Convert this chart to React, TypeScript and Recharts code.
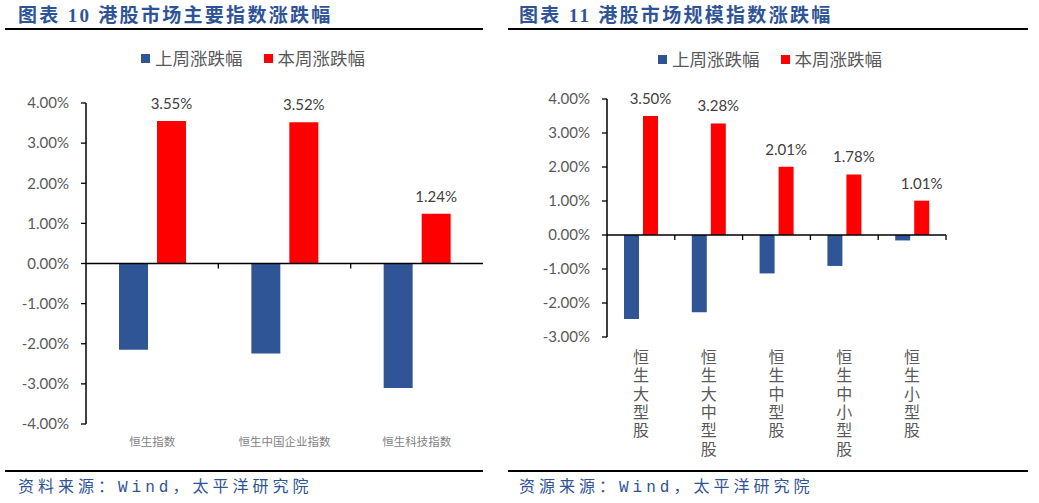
import { BarChart, Bar, XAxis, YAxis, ReferenceLine, LabelList } from 'recharts';

// 图表 10：港股市场主要指数
const mainCategories = ['恒生指数', '恒生中国企业指数', '恒生科技指数'];
const mainLastWeek = [-2.15, -2.24, -3.1];
const mainThisWeek = [3.55, 3.52, 1.24];
const mainTicks = [-4, -3, -2, -1, 0, 1, 2, 3, 4];

// 图表 11：港股市场规模指数
const sizeCategories = ['恒生大型股', '恒生大中型股', '恒生中型股', '恒生中小型股', '恒生小型股'];
const sizeLastWeek = [-2.47, -2.27, -1.13, -0.91, -0.16];
const sizeThisWeek = [3.5, 3.28, 2.01, 1.78, 1.01];
const sizeTicks = [-3, -2, -1, 0, 1, 2, 3, 4];

const seriesNames = ['上周涨跌幅', '本周涨跌幅'];
const BLUE = '#2F5597';
const RED = '#FF0000';
const TEXT_GRAY = '#595959';
const TITLE_BLUE = '#2F5496';
const NUM_FONT = "Lato, 'Noto Sans CJK SC', sans-serif";
const CJK_FONT = "'Noto Sans CJK SC', sans-serif";

const pct = (v: number) => `${v.toFixed(2)}%`;

const toRows = (cats: string[], last: number[], cur: number[]) =>
  cats.map((name, i) => ({ name, lastWeek: last[i], thisWeek: cur[i] }));

// zero line with small downward ticks at category boundaries
const zeroLine = (count: number, from: number, to: number) => (p: any) => {
  const step = (p.x2 - p.x1) / count;
  const marks = [];
  for (let i = from; i <= to; i++) {
    const x = p.x1 + step * i;
    marks.push(<line key={i} x1={x} x2={x} y1={p.y1} y2={p.y1 + 5} stroke="#000" strokeWidth={1.3} />);
  }
  return (
    <g>
      <line x1={p.x1} y1={p.y1} x2={p.x2} y2={p.y2} stroke="#000" strokeWidth={1.5} />
      {marks}
    </g>
  );
};

const FlatTick = (props: any) => (
  <text
    x={props.x}
    y={props.y + 17}
    textAnchor="middle"
    dominantBaseline="central"
    fontSize={11.5}
    fill="#7F7F7F"
    fontFamily={CJK_FONT}
  >
    {props.payload.value}
  </text>
);

// category names stacked top to bottom, one text per label
const VerticalTick = (props: any) => (
  <text
    x={props.x}
    y={props.y + 12}
    writingMode="tb"
    style={{ writingMode: 'vertical-rl' }}
    fontSize={16}
    letterSpacing={2.3}
    fill={TEXT_GRAY}
    fontFamily={CJK_FONT}
  >
    {props.payload.value}
  </text>
);

function LegendRow({ left, top }: { left: number; top: number }) {
  const colors = [BLUE, RED];
  return (
    <div style={{ position: 'absolute', left, top, display: 'flex', alignItems: 'center', gap: 21 }}>
      {seriesNames.map((n, i) => (
        <div key={n} style={{ display: 'flex', alignItems: 'center', gap: 5 }}>
          <div style={{ width: 9, height: 9, background: colors[i] }} />
          <span style={{ fontSize: 17.5, color: TEXT_GRAY, fontFamily: CJK_FONT, lineHeight: '20px' }}>{n}</span>
        </div>
      ))}
    </div>
  );
}

function Title({ left, text }: { left: number; text: string }) {
  return (
    <div
      style={{
        position: 'absolute',
        left,
        top: 4,
        fontSize: 19,
        fontWeight: 700,
        letterSpacing: 2.3,
        color: TITLE_BLUE,
        fontFamily: "'Liberation Serif', 'Noto Sans CJK SC', serif",
        lineHeight: '24px',
        whiteSpace: 'nowrap',
      }}
    >
      {text}
    </div>
  );
}

function Source({ left, text }: { left: number; text: string }) {
  return (
    <div
      style={{
        position: 'absolute',
        left,
        top: 477,
        fontSize: 16,
        letterSpacing: 4,
        color: TITLE_BLUE,
        fontFamily: "'Liberation Mono', 'Noto Sans CJK SC', monospace",
        lineHeight: '22px',
        whiteSpace: 'nowrap',
      }}
    >
      {text}
    </div>
  );
}

const hr = (left: number, width: number, top: number) => (
  <div style={{ position: 'absolute', left, top, width, height: 1.5, background: '#000' }} />
);

export default function App() {
  const mainData = toRows(mainCategories, mainLastWeek, mainThisWeek);
  const sizeData = toRows(sizeCategories, sizeLastWeek, sizeThisWeek);

  return (
    <div
      style={{
        position: 'absolute',
        left: 0,
        top: 0,
        width: 1039,
        height: 503,
        background: '#fff',
        overflow: 'hidden',
      }}
    >
      <Title left={18} text="图表 10 港股市场主要指数涨跌幅" />
      <Title left={519} text="图表 11 港股市场规模指数涨跌幅" />
      {hr(5, 478, 28)}
      {hr(508, 520, 28)}
      {hr(5, 478, 470)}
      {hr(508, 520, 470)}
      <Source left={18} text="资料来源：Wind，太平洋研究院" />
      <Source left={519} text="资源来源：Wind，太平洋研究院" />
      <LegendRow left={141} top={48} />
      <LegendRow left={658} top={49} />

      <div style={{ position: 'absolute', left: 0, top: 0 }}>
        <BarChart
          width={520}
          height={503}
          data={mainData}
          margin={{ top: 103, right: 37, left: 0, bottom: 0 }}
          barSize={29}
          barGap={9}
        >
          <YAxis
            width={86}
            domain={[-4, 4]}
            ticks={mainTicks}
            tickFormatter={pct}
            axisLine={{ stroke: '#000', strokeWidth: 1.5 }}
            tickLine={{ stroke: '#000', strokeWidth: 1.3 }}
            tickSize={5}
            tickMargin={12}
            tick={{ fontSize: 15, fill: TEXT_GRAY, fontFamily: NUM_FONT }}
          />
          <XAxis
            dataKey="name"
            height={79}
            axisLine={false}
            tickLine={false}
            tickSize={0}
            tickMargin={0}
            interval={0}
            tick={<FlatTick />}
          />
          <ReferenceLine y={0} shape={zeroLine(mainCategories.length, 1, mainCategories.length - 1)} />
          <Bar dataKey="lastWeek" name={seriesNames[0]} fill={BLUE} isAnimationActive={false} />
          <Bar dataKey="thisWeek" name={seriesNames[1]} fill={RED} isAnimationActive={false}>
            <LabelList
              dataKey="thisWeek"
              position="top"
              offset={12}
              formatter={(v: any) => pct(Number(v))}
              fill="#404040"
              fontSize={15}
              fontFamily={NUM_FONT}
            />
          </Bar>
        </BarChart>
      </div>

      <div style={{ position: 'absolute', left: 510, top: 0 }}>
        <BarChart
          width={529}
          height={503}
          data={sizeData}
          margin={{ top: 99, right: 93, left: 0, bottom: 0 }}
          barSize={15}
          barGap={4}
        >
          <YAxis
            width={97}
            domain={[-3, 4]}
            ticks={sizeTicks}
            tickFormatter={pct}
            axisLine={{ stroke: '#000', strokeWidth: 1.5 }}
            tickLine={{ stroke: '#000', strokeWidth: 1.3 }}
            tickSize={5}
            tickMargin={12}
            tick={{ fontSize: 15, fill: TEXT_GRAY, fontFamily: NUM_FONT }}
          />
          <XAxis
            dataKey="name"
            height={166}
            axisLine={false}
            tickLine={false}
            tickSize={0}
            tickMargin={0}
            interval={0}
            tick={<VerticalTick />}
          />
          <ReferenceLine y={0} shape={zeroLine(sizeCategories.length, 1, sizeCategories.length)} />
          <Bar dataKey="lastWeek" name={seriesNames[0]} fill={BLUE} isAnimationActive={false} />
          <Bar dataKey="thisWeek" name={seriesNames[1]} fill={RED} isAnimationActive={false}>
            <LabelList
              dataKey="thisWeek"
              position="top"
              offset={12}
              formatter={(v: any) => pct(Number(v))}
              fill="#404040"
              fontSize={15}
              fontFamily={NUM_FONT}
            />
          </Bar>
        </BarChart>
      </div>
    </div>
  );
}
